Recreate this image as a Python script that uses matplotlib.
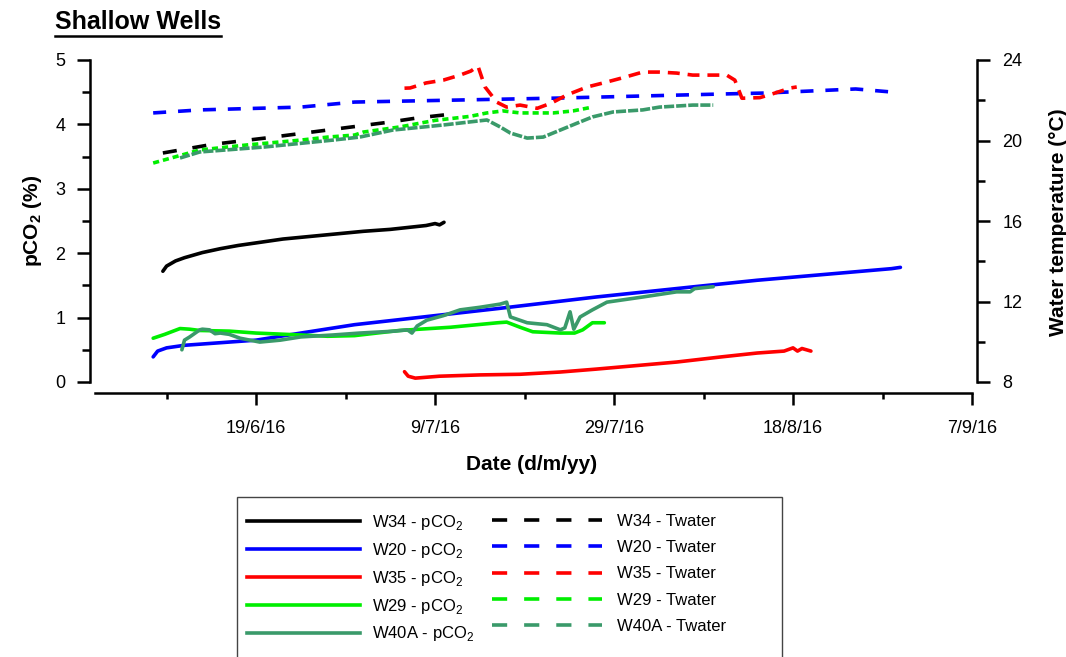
import matplotlib
matplotlib.use('Agg')
import matplotlib.pyplot as plt
import matplotlib.dates as mdates
from matplotlib.lines import Line2D
from matplotlib.patches import Rectangle
from matplotlib.ticker import FixedLocator, MultipleLocator
import pandas as pd

plt.rcParams['font.family'] = ['Liberation Sans', 'DejaVu Sans']
plt.rcParams['mathtext.fontset'] = 'custom'
plt.rcParams['mathtext.rm'] = 'Liberation Sans'
plt.rcParams['mathtext.bf'] = 'Liberation Sans:bold'

# ---- data ----
w34_dates = ['2016-06-08 14:00', '2016-06-09', '2016-06-10', '2016-06-11', '2016-06-13', '2016-06-15',
             '2016-06-17', '2016-06-19', '2016-06-22', '2016-06-25', '2016-06-28', '2016-07-01',
             '2016-07-04', '2016-07-06', '2016-07-08', '2016-07-09', '2016-07-09 12:00', '2016-07-10']
w34_pco2 = [1.72, 1.80, 1.88, 1.93, 2.01, 2.07, 2.12, 2.16, 2.22, 2.26, 2.30, 2.34,
            2.37, 2.40, 2.43, 2.46, 2.44, 2.48]
w34_t_dates = ['2016-06-08 14:00', '2016-06-14', '2016-06-20', '2016-06-27', '2016-07-04', '2016-07-07', '2016-07-10']
w34_temp = [19.38, 19.80, 20.12, 20.52, 20.92, 21.12, 21.27]

w20_dates = ['2016-06-07 12:00', '2016-06-08', '2016-06-09', '2016-06-11', '2016-06-19', '2016-06-24',
             '2016-06-30', '2016-07-16', '2016-07-27', '2016-08-07', '2016-08-14', '2016-08-24',
             '2016-08-29', '2016-08-30']
w20_pco2 = [0.39, 0.48, 0.53, 0.57, 0.65, 0.76, 0.89, 1.14, 1.32, 1.48, 1.58, 1.70, 1.76, 1.78]
w20_t_dates = ['2016-06-07 12:00', '2016-06-12 17:00', '2016-06-24', '2016-06-30', '2016-07-23',
               '2016-08-10', '2016-08-15', '2016-08-25', '2016-08-29']
w20_temp = [21.37, 21.52, 21.66, 21.91, 22.11, 22.31, 22.36, 22.56, 22.41]

w35_dates = ['2016-07-05 14:00', '2016-07-06', '2016-07-06 19:00', '2016-07-09 12:00', '2016-07-14',
             '2016-07-18 12:00', '2016-07-23', '2016-07-27', '2016-07-31 22:00', '2016-08-05',
             '2016-08-10', '2016-08-14', '2016-08-17', '2016-08-18', '2016-08-18 12:00',
             '2016-08-19', '2016-08-20']
w35_pco2 = [0.16, 0.09, 0.06, 0.09, 0.11, 0.12, 0.155, 0.20, 0.26, 0.31, 0.39, 0.45, 0.48,
            0.53, 0.48, 0.52, 0.48]
w35_t_dates = ['2016-07-05 14:00', '2016-07-06 05:00', '2016-07-08', '2016-07-09 22:00', '2016-07-11 19:00',
               '2016-07-13', '2016-07-13 19:00', '2016-07-14 14:00', '2016-07-15 22:00', '2016-07-17',
               '2016-07-18 12:00', '2016-07-20 10:00', '2016-07-22', '2016-07-23 17:00', '2016-07-26',
               '2016-07-27 19:00', '2016-07-30', '2016-08-01 05:00', '2016-08-03', '2016-08-05',
               '2016-08-06 19:00', '2016-08-08 22:00', '2016-08-10 14:00', '2016-08-11 12:00',
               '2016-08-12 07:00', '2016-08-14 07:00', '2016-08-15 19:00', '2016-08-17 17:00',
               '2016-08-18 10:00']
w35_temp = [22.60, 22.61, 22.86, 23.00, 23.25, 23.45, 23.70, 22.66, 21.90, 21.66,
            21.76, 21.60, 21.86, 22.26, 22.66, 22.86, 23.12, 23.40, 23.40, 23.35,
            23.25, 23.25, 23.25, 23.00, 22.10, 22.13, 22.33, 22.61, 22.66]

w29_dates = ['2016-06-07 12:00', '2016-06-08 19:00', '2016-06-10 12:00', '2016-06-11 14:00',
             '2016-06-12 17:00', '2016-06-16', '2016-06-19', '2016-06-24', '2016-06-27', '2016-06-30',
             '2016-07-05', '2016-07-10 17:00', '2016-07-16', '2016-07-17', '2016-07-18 12:00',
             '2016-07-19 22:00', '2016-07-23', '2016-07-24 14:00', '2016-07-25 12:00',
             '2016-07-26 14:00', '2016-07-27 22:00']
w29_pco2 = [0.68, 0.74, 0.83, 0.82, 0.80, 0.79, 0.76, 0.73, 0.71, 0.72, 0.80, 0.85, 0.92,
            0.93, 0.85, 0.78, 0.76, 0.76, 0.81, 0.92, 0.92]
w29_t_dates = ['2016-06-07 12:00', '2016-06-12 17:00', '2016-06-18', '2016-06-24', '2016-06-27',
               '2016-06-30', '2016-07-01', '2016-07-05', '2016-07-09', '2016-07-12 22:00',
               '2016-07-14 19:00', '2016-07-16 14:00', '2016-07-18 12:00', '2016-07-22 05:00',
               '2016-07-24 10:00', '2016-07-26 14:00']
w29_temp = [18.88, 19.53, 19.78, 20.02, 20.17, 20.27, 20.42, 20.67, 21.00, 21.20,
            21.37, 21.47, 21.37, 21.37, 21.47, 21.66]

w40a_dates = ['2016-06-10 17:00', '2016-06-11', '2016-06-11 14:00', '2016-06-12 17:00', '2016-06-13',
              '2016-06-13 19:00', '2016-06-14 10:00', '2016-06-15', '2016-06-16', '2016-06-17 05:00',
              '2016-06-19 10:00', '2016-06-21 17:00', '2016-06-24', '2016-06-27 14:00', '2016-06-30 14:00',
              '2016-07-04 12:00', '2016-07-05 22:00', '2016-07-06 10:00', '2016-07-07', '2016-07-08 02:00',
              '2016-07-09 22:00', '2016-07-11 19:00', '2016-07-14', '2016-07-16 07:00', '2016-07-17',
              '2016-07-17 10:00', '2016-07-19 07:00', '2016-07-21 12:00', '2016-07-23', '2016-07-23 12:00',
              '2016-07-24 02:00', '2016-07-24 12:00', '2016-07-25 05:00', '2016-07-26 14:00',
              '2016-07-28 05:00', '2016-08-01 05:00', '2016-08-05', '2016-08-06 12:00', '2016-08-07',
              '2016-08-09 02:00']
w40a_pco2 = [0.50, 0.65, 0.70, 0.81, 0.82, 0.81, 0.75, 0.76, 0.74, 0.68,
             0.62, 0.65, 0.70, 0.73, 0.76, 0.79, 0.81, 0.76, 0.87, 0.96,
             1.03, 1.12, 1.16, 1.21, 1.24, 1.01, 0.92, 0.89, 0.81, 0.84,
             1.09, 0.82, 1.01, 1.12, 1.24, 1.32, 1.40, 1.40, 1.45, 1.48]
w40a_t_dates = ['2016-06-10 12:00', '2016-06-12 17:00', '2016-06-20', '2016-06-27 14:00', '2016-06-30 14:00',
                '2016-07-04 07:00', '2016-07-09 22:00', '2016-07-14 19:00', '2016-07-16 07:00',
                '2016-07-17 10:00', '2016-07-19 07:00', '2016-07-21 02:00', '2016-07-23',
                '2016-07-24 22:00', '2016-07-26 14:00', '2016-07-28 22:00', '2016-08-01 05:00',
                '2016-08-03 02:00', '2016-08-06 19:00', '2016-08-09 02:00']
w40a_temp = [19.13, 19.43, 19.68, 20.02, 20.17, 20.52, 20.77, 21.02, 20.67, 20.37,
             20.12, 20.17, 20.52, 20.87, 21.17, 21.42, 21.52, 21.66, 21.76, 21.76]

x_range = ['2016-06-01', '2016-09-07']
major_dates = ['2016-06-19', '2016-07-09', '2016-07-29', '2016-08-18', '2016-09-07']
major_labels = ['19/6/16', '9/7/16', '29/7/16', '18/8/16', '7/9/16']
minor_dates = ['2016-06-09', '2016-06-29', '2016-07-19', '2016-08-08', '2016-08-28']

wells = ['W34', 'W20', 'W35', 'W29', 'W40A']
colors = ['#000000', '#0000ff', '#ff0000', '#00ee00', '#3a9a6a']
dash_styles = [(0, (3.9, 4.4)), (0, (3.6, 3.3)), (0, (3.3, 2.2)), (0, (1.7, 1.1)), (0, (2.8, 0.55))]

pco2_series = [(w34_dates, w34_pco2), (w20_dates, w20_pco2), (w35_dates, w35_pco2),
               (w29_dates, w29_pco2), (w40a_dates, w40a_pco2)]
temp_series = [(w34_t_dates, w34_temp), (w20_t_dates, w20_temp), (w35_t_dates, w35_temp),
               (w29_t_dates, w29_temp), (w40a_t_dates, w40a_temp)]


def to_dt(d):
    return pd.to_datetime(d, format='ISO8601')


W, H = 1066, 657
fig = plt.figure(figsize=(W / 100, H / 100), dpi=100)
ax = fig.add_axes([95 / W, 1 - 382 / H, 877 / W, 322 / H])
ax2 = ax.twinx()

lw = 2.6
for (d, v), c in zip(pco2_series, colors):
    ax.plot(to_dt(d), v, color=c, lw=lw, solid_capstyle='round', solid_joinstyle='round')
for (d, v), c, ls in zip(temp_series, colors, dash_styles):
    ax2.plot(to_dt(d), v, color=c, lw=lw, linestyle=ls)

ax.set_xlim(to_dt(x_range))
ax.set_ylim(0, 5)
ax2.set_ylim(8, 24)

ax.xaxis.set_major_locator(FixedLocator(mdates.date2num(to_dt(major_dates))))
ax.xaxis.set_minor_locator(FixedLocator(mdates.date2num(to_dt(minor_dates))))
ax.set_xticklabels(major_labels)
ax.yaxis.set_major_locator(MultipleLocator(1))
ax.yaxis.set_minor_locator(MultipleLocator(0.5))
ax2.yaxis.set_major_locator(MultipleLocator(4))
ax2.yaxis.set_minor_locator(MultipleLocator(2))

for s in ['top', 'right']:
    ax.spines[s].set_visible(False)
for s in ['top', 'left', 'bottom']:
    ax2.spines[s].set_visible(False)
ax.spines['left'].set_position(('outward', 3.6))
ax.spines['bottom'].set_position(('outward', 8))
ax2.spines['right'].set_position(('outward', 3.6))
for sp in [ax.spines['left'], ax.spines['bottom'], ax2.spines['right']]:
    sp.set_linewidth(1.8)

ax.tick_params(axis='y', which='major', length=9.4, width=1.8, pad=8.5, labelsize=13)
ax.tick_params(axis='y', which='minor', length=5.8, width=1.8)
ax.tick_params(axis='x', which='major', length=8.6, width=1.8, pad=10.5, labelsize=13)
ax.tick_params(axis='x', which='minor', length=4.3, width=1.8)
ax2.tick_params(axis='y', which='major', length=9.4, width=1.8, pad=9, labelsize=13)
ax2.tick_params(axis='y', which='minor', length=5.8, width=1.8)

fig.text(32 / W, 1 - 221 / H, r'pCO$_\mathbf{2}$ (%)', rotation=90, ha='center', va='center',
         fontsize=15, fontweight='bold')
fig.text(1058 / W, 1 - 222 / H, 'Water temperature (°C)', rotation=90, ha='center', va='center',
         fontsize=15, fontweight='bold')
fig.text(532 / W, 1 - 465 / H, 'Date (d/m/yy)', ha='center', va='center', fontsize=15, fontweight='bold')

title = fig.text(55 / W, 1 - 22 / H, 'Shallow Wells', ha='left', va='center', fontsize=18, fontweight='bold')
fig.canvas.draw()
bb = title.get_window_extent()
fig.add_artist(Line2D([bb.x0 / W, bb.x1 / W], [1 - 36 / H, 1 - 36 / H], transform=fig.transFigure,
                      color='black', lw=1.8))

# legend: solid pCO2 entries on the left, dashed Twater entries on the right
h_pco2 = [Line2D([], [], color=c, lw=lw) for c in colors]
l_pco2 = [w + r' - pCO$_2$' for w in wells]
h_temp = [Line2D([], [], color=c, lw=lw, linestyle=(0, (4.2, 4.7))) for c in colors]
l_temp = [w + ' - Twater' for w in wells]
leg1 = fig.legend(h_pco2, l_pco2, loc='upper left', bbox_to_anchor=(247 / W, 1 - 513 / H),
                  frameon=False, fontsize=12, handlelength=6.8, handletextpad=0.7,
                  labelspacing=0.53, borderpad=0, borderaxespad=0)
leg2 = fig.legend(h_temp, l_temp, loc='upper left', bbox_to_anchor=(492 / W, 1 - 514 / H),
                  frameon=False, fontsize=12, handlelength=6.6, handletextpad=0.9,
                  labelspacing=0.675, borderpad=0, borderaxespad=0)
fig.patches.append(Rectangle((237 / W, -0.05), (782 - 237) / W, 0.05 + 1 - 497 / H,
                             transform=fig.transFigure, fill=False, edgecolor='#444444', lw=1.0))

fig.savefig('out.png', dpi=100)
